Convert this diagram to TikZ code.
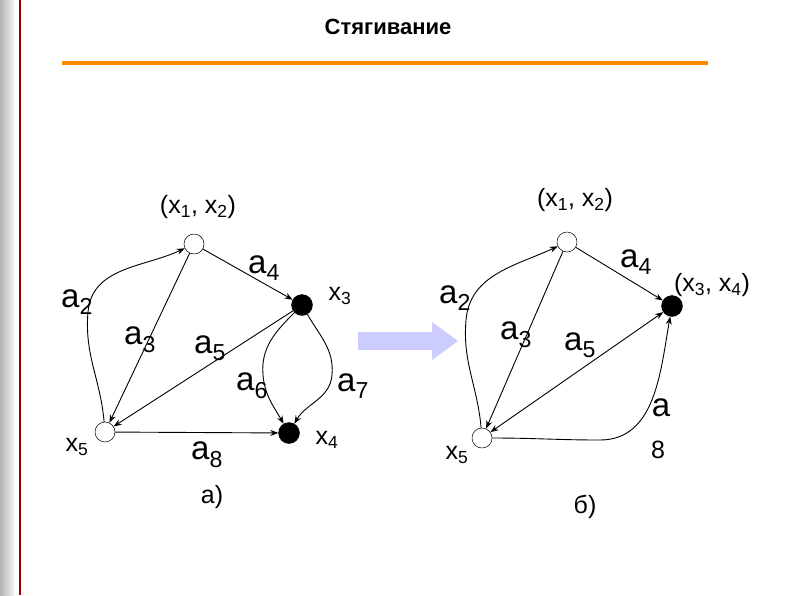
\documentclass[tikz,border=0pt]{standalone}
\usepackage{fontspec}
\setmainfont{Liberation Sans}
\usetikzlibrary{arrows.meta}
\newcommand{\mysb}[1]{\textsubscript{#1}}
\begin{document}
\begin{tikzpicture}[x=1pt,y=-1pt,
  wv/.style={circle,draw,fill=white,minimum size=20pt,inner sep=0pt,line width=0.5pt},
  bv/.style={circle,draw,fill=black,minimum size=21pt,inner sep=0pt},
  ed/.style={draw,line width=0.9pt,-{Stealth[length=8pt,width=6pt]}},
  lb/.style={inner sep=0pt,font=\fontsize{33}{33}\selectfont},
  sl/.style={inner sep=0pt,font=\fontsize{25}{25}\selectfont}]
\useasboundingbox (0,0) rectangle (794,595);
\shade[left color=gray!60,right color=gray!10] (0,0) rectangle (14,595);
\draw[line width=2pt,red!60!black] (20,0) -- (20,595);
\node[font=\bfseries\fontsize{22}{22}\selectfont] (title) at (388,27) {Стягивание};
\draw[line width=3.5pt,orange!90!yellow] (62,63) -- (708,63);
% graph a
\node[wv] (A1) at (194,244) {};
\node[bv] (A3) at (302,305) {};
\node[bv] (A4) at (289,433) {};
\node[wv] (A5) at (105,432) {};
\node[sl] at (198,207) {(x\mysb{1}, x\mysb{2})};
\node[lb] at (264,268) {a\mysb{4}};
\node[sl] at (340,296) {x\mysb{3}};
\node[lb] at (77,302) {a\mysb{2}};
\node[lb] at (140,340) {a\mysb{3}};
\node[lb] at (210,348) {a\mysb{5}};
\node[lb] at (252,386) {a\mysb{6}};
\node[lb] at (353,386) {a\mysb{7}};
\node[sl] at (77,447) {x\mysb{5}};
\node[lb] at (207,455) {a\mysb{8}};
\node[sl] at (327,440) {x\mysb{4}};
\node[sl] at (212,497) {а)};
\draw[ed] (A5) to[out=95,in=-95] (88,312) to[out=85,in=205] (A1);
\draw[ed] (A1) -- (A5);
\draw[ed] (A1) -- (A3);
\draw[ed] (A3) -- (A5);
\draw[ed] (A3) to[out=225,in=95] (263,375) to[out=-85,in=120] (A4);
\draw[ed] (A3) to[out=-60,in=85] (332,375) to[out=-95,in=60] (A4);
\draw[ed] (A5) -- (A4);
% arrow
\fill[blue!20!white] (358,332) -- (432,332) -- (432,322) -- (458,341) -- (432,360) -- (432,350) -- (358,350) -- cycle;
% graph b
\node[wv] (B1) at (567,242) {};
\node[bv] (B3) at (672,306) {};
\node[wv] (B5) at (482,438) {};
\node[sl] at (575,200) {(x\mysb{1}, x\mysb{2})};
\node[lb] at (636,262) {a\mysb{4}};
\node[sl] at (712,285) {(x\mysb{3}, x\mysb{4})};
\node[lb] at (455,298) {a\mysb{2}};
\node[lb] at (516,335) {a\mysb{3}};
\node[lb] at (580,345) {a\mysb{5}};
\node[lb] at (661,408) {a};
\node[sl] at (658,450) {8};
\node[sl] at (457,455) {x\mysb{5}};
\node[sl] at (585,507) {б)};
\draw[ed] (B5) to[out=95,in=-95] (466,320) to[out=85,in=205] (B1);
\draw[ed] (B1) -- (B5);
\draw[ed] (B1) -- (B3);
\draw[ed,{Stealth[length=8pt,width=6pt]}-{Stealth[length=8pt,width=6pt]}] (B5) -- (B3);
\draw[ed] (B5) to[out=0,in=180] (600,440) to[out=0,in=-100] (B3);
\end{tikzpicture}
\end{document}
